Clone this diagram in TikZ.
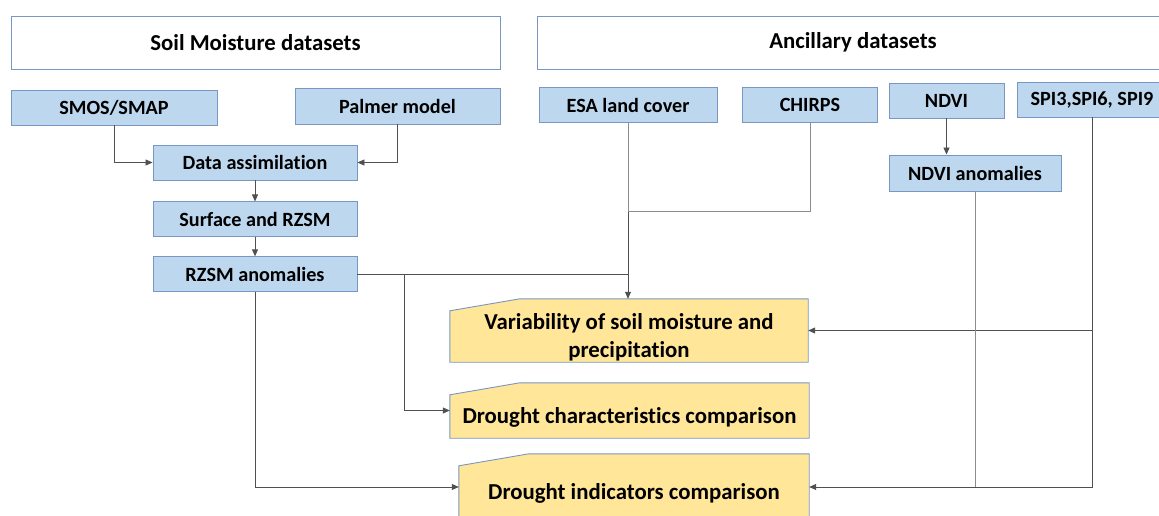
\documentclass[tikz,border=0pt]{standalone}
\usepackage{fontspec}
\setmainfont{Carlito}[Ligatures=NoCommon]
\usepackage{tikz}
\usetikzlibrary{positioning, arrows.meta, backgrounds}
\definecolor{dataBlue}{HTML}{BDD7EE}
\definecolor{edgeBlue}{HTML}{7A96C2}
\definecolor{outYellow}{HTML}{FFE699}
\definecolor{linkGray}{HTML}{505050}
\definecolor{paleGray}{HTML}{8C8C8C}

\begin{document}
\begin{tikzpicture}[
      x=1pt, y=-1pt,
      node distance=20pt,
      header/.style={draw=edgeBlue, fill=white, line width=0.9pt, minimum height=53pt, font=\fontsize{22.8}{26}\selectfont\bfseries},
      box/.style={draw=edgeBlue, fill=dataBlue, line width=0.9pt, minimum height=35pt, inner sep=0pt, font=\fontsize{20.2}{23}\selectfont\bfseries},
      outcome/.style={inner sep=0pt},
      outtext/.style={align=center, yshift=-6.5pt, font=\fontsize{22.8}{28}\selectfont\bfseries},
      outline/.style={draw=edgeBlue, fill=outYellow, line width=0.9pt},
      link/.style={draw=linkGray, line width=0.8pt},
      palelink/.style={draw=paleGray, line width=0.8pt},
      >={Triangle[length=7pt, width=6pt]},
    ]
    \clip (0,0) rectangle (1159,516);
    % column headers
    \node[header, minimum width=489pt] (smhead) at (255.5,42.5) {Soil Moisture datasets};
    \node[header, minimum width=632pt] (anchead) at (853,42.5) {Ancillary datasets};
    % soil moisture chain
    \node[box, minimum width=206pt] (smos) at (114,107.5) {SMOS/SMAP};
    \node[box, minimum width=205pt, minimum height=36pt] (palmer) at (397.5,106) {Palmer model};
    \node[box, minimum width=204pt] (assim) at (255,162.5) {Data assimilation};
    \node[box, minimum width=204pt, below=21pt of assim] (surf) {Surface and RZSM};
    \node[box, minimum width=204pt, below=19pt of surf] (rzsm) {RZSM anomalies};
    % ancillary inputs
    \node[box, minimum width=178pt] (esa) at (628,105) {ESA land cover};
    \node[box, minimum width=135pt] (chirps) at (810,104.5) {CHIRPS};
    \node[box, minimum width=115pt] (ndvi) at (946.5,100.5) {NDVI};
    \node[box, minimum width=150pt] (spi) at (1092,99.5) {SPI3,SPI6, SPI9};
    \node[box, minimum width=172pt, minimum height=36pt] (ndvianom) at (975,173) {NDVI anomalies};
    % outcomes
    \node[outcome, minimum width=358pt, minimum height=63pt,
      label={[outtext]center:{Variability of soil moisture and\\precipitation}}] (var) at (629,330.5) {};
    \node[outcome, minimum width=359pt, minimum height=55pt,
      label={[outtext]center:{Drought characteristics comparison}}] (char) at (629.5,410.5) {};
    \node[outcome, minimum width=350pt, minimum height=66pt,
      label={[outtext]center:{Drought indicators comparison}}] (ind) at (634,487) {};
    \begin{scope}[on background layer]
      \foreach \n in {var,char,ind}
        \draw[outline] (\n.south west) -- ([yshift=-12pt]\n.north west) -- ([xshift=70pt]\n.north west) -- (\n.north east) -- (\n.south east) -- cycle;
    \end{scope}
    \coordinate (jct) at (628,211);
    \coordinate (brk) at (404,274);
    % links
    \draw[link, ->] (smos.south) |- (assim.west);
    \draw[link, ->] (palmer.south) |- (assim.east);
    \draw[link, ->] (assim) -- (surf);
    \draw[link, ->] (surf) -- (rzsm);
    \draw[palelink] (esa.south) -- (jct);
    \draw[link, ->] (jct) -- (jct |- var.north);
    \draw[palelink] (chirps.south) |- (jct);
    \draw[link] (rzsm.east) -- (rzsm.east -| esa.south);
    \draw[link, ->] (brk) |- (char.west);
    \draw[link, ->] (rzsm.south) |- (ind.west);
    \draw[link, ->] (ndvi.south) -- (ndvi.south |- ndvianom.north);
    \draw[link, ->] (spi.south) |- (var.east);
    \draw[link, ->] (spi.south) |- (ind.east);
    \draw[palelink] (ndvianom.south) -- (ndvianom.south |- ind.east);
\end{tikzpicture}
\end{document}
